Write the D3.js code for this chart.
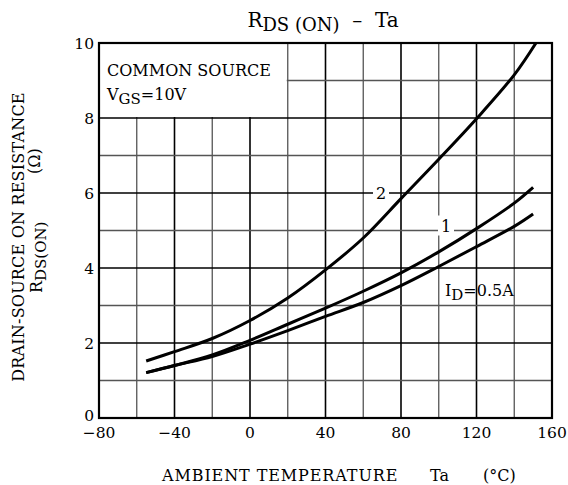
<!DOCTYPE html>
<html>
<head>
<meta charset="utf-8">
<script src="https://cdn.jsdelivr.net/npm/d3@7.9.0/dist/d3.min.js"></script>
<style>
  body { margin: 0; background: #fff; }
  svg { display: block; font-family: "DejaVu Serif", serif; }
  text { white-space: pre; }
</style>
</head>
<body>
<svg id="chart" width="568" height="485"></svg>
<script>
// temperatures (deg C) and read-off RDS(ON) values (ohm)
const tempsA = [-55, -40, -20, 0, 20, 40, 60, 80, 100, 120, 140, 151.5];
const curve2 = [1.52, 1.77, 2.12, 2.6, 3.2, 3.95, 4.8, 5.85, 6.9, 7.98, 9.15, 10];

const tempsB = [-55, -40, -20, 0, 20, 40, 60, 80, 100, 120, 140, 150];
const curve1 = [1.21, 1.4, 1.68, 2.07, 2.5, 2.93, 3.38, 3.87, 4.43, 5.05, 5.73, 6.15];
const curve05 = [1.21, 1.4, 1.64, 1.97, 2.33, 2.71, 3.08, 3.53, 4.04, 4.57, 5.11, 5.44];

const xTicks = [-80, -40, 0, 40, 80, 120, 160];
const yTicks = [0, 2, 4, 6, 8, 10];

const margin = { left: 99, top: 43, right: 16, bottom: 67 };
const W = 568, H = 485;

const svg = d3.select("#chart");

const x = d3.scaleLinear().domain([-80, 160]).range([margin.left, W - margin.right]);
const y = d3.scaleLinear().domain([0, 10]).range([H - margin.bottom, margin.top]);

// grid
const grid = svg.append("g");
d3.range(-60, 160, 20).forEach(t => {
  const major = t % 40 === 0;
  grid.append("line")
    .attr("x1", x(t)).attr("x2", x(t))
    .attr("y1", y(0)).attr("y2", y(10))
    .attr("stroke", major ? "#000" : "#555")
    .attr("stroke-width", major ? 1.6 : 1.3);
});
d3.range(1, 10, 1).forEach(v => {
  const major = v % 2 === 0;
  grid.append("line")
    .attr("x1", x(-80)).attr("x2", x(160))
    .attr("y1", y(v)).attr("y2", y(v))
    .attr("stroke", major ? "#000" : "#555")
    .attr("stroke-width", major ? 1.6 : 1.3);
});

// legend box (blanks grid in the corner)
svg.append("rect")
  .attr("x", x(-80)).attr("y", y(10))
  .attr("width", x(20) - x(-80) - 1)
  .attr("height", y(8) - y(10) - 1)
  .attr("fill", "#fff");

svg.append("text")
  .attr("x", 107).attr("y", 76)
  .attr("font-size", 16)
  .text("COMMON SOURCE");

const vgs = svg.append("text").attr("x", 107).attr("y", 100).attr("font-size", 16);
vgs.append("tspan").text("V");
vgs.append("tspan").attr("dy", 4).attr("font-size", 15).text("GS");
vgs.append("tspan").attr("dy", -4).text("=10V");

// curves
const line = d3.line()
  .x(d => x(d[0]))
  .y(d => y(d[1]))
  .curve(d3.curveCatmullRom.alpha(0.5));

const series = [
  d3.zip(tempsA, curve2),
  d3.zip(tempsB, curve1),
  d3.zip(tempsB, curve05)
];

svg.append("g").selectAll("path")
  .data(series)
  .join("path")
  .attr("d", line)
  .attr("fill", "none")
  .attr("stroke", "#000")
  .attr("stroke-width", 3);

// curve labels
function curveLabel(cx, cy, txt, bw) {
  svg.append("rect")
    .attr("x", cx - bw / 2).attr("y", cy - 10)
    .attr("width", bw).attr("height", 20)
    .attr("fill", "#fff");
  svg.append("text")
    .attr("x", cx).attr("y", cy + 6)
    .attr("text-anchor", "middle")
    .attr("font-size", 16)
    .text(txt);
}
curveLabel(381, y(6), "2", 16);
curveLabel(446, y(5) - 5, "1", 16);

const idl = svg.append("text").attr("x", 445).attr("y", 296).attr("font-size", 16);
idl.append("tspan").text("I");
idl.append("tspan").attr("dy", 4).attr("font-size", 15).text("D");
idl.append("tspan").attr("dy", -4).text("=0.5A");

// frame
svg.append("rect")
  .attr("x", x(-80)).attr("y", y(10))
  .attr("width", x(160) - x(-80))
  .attr("height", y(0) - y(10))
  .attr("fill", "none")
  .attr("stroke", "#000")
  .attr("stroke-width", 2.2);

// axes labels
const fmt = d => (d < 0 ? "\u2212" + Math.abs(d) : String(d));

svg.append("g").selectAll("text")
  .data(xTicks)
  .join("text")
  .attr("x", d => x(d))
  .attr("y", 438)
  .attr("text-anchor", "middle")
  .attr("font-size", 15.5)
  .text(fmt);

svg.append("g").selectAll("text")
  .data(yTicks)
  .join("text")
  .attr("x", 94)
  .attr("y", d => y(d) + (d === 0 ? 3 : 6))
  .attr("text-anchor", "end")
  .attr("font-size", 15.5)
  .text(d => d);

const xlab = svg.append("g").attr("font-size", 16);
xlab.append("text").attr("x", 162).attr("y", 481).attr("letter-spacing", 0.9).text("AMBIENT TEMPERATURE");
xlab.append("text").attr("x", 430).attr("y", 481).text("Ta");
xlab.append("text").attr("x", 483).attr("y", 481).text("(\u00B0C)");

svg.append("text")
  .attr("transform", "translate(24,237) rotate(-90)")
  .attr("text-anchor", "middle")
  .attr("font-size", 16)
  .attr("letter-spacing", 0.2)
  .text("DRAIN-SOURCE ON RESISTANCE");

const yl2 = svg.append("text")
  .attr("transform", "translate(42,293) rotate(-90)")
  .attr("font-size", 16);
yl2.append("tspan").text("R");
yl2.append("tspan").attr("dy", 4).attr("font-size", 15).text("DS(ON)");

svg.append("text")
  .attr("transform", "translate(40,174) rotate(-90)")
  .attr("font-size", 16)
  .text("(\u03A9)");

// title
const title = svg.append("text")
  .attr("x", 323).attr("y", 27)
  .attr("text-anchor", "middle")
  .attr("font-size", 20);
title.append("tspan").text("R");
title.append("tspan").attr("dy", 4).attr("font-size", 18).text("DS (ON)");
title.append("tspan").attr("dy", -4).text("  \u2013  Ta");
</script>
</body>
</html>
